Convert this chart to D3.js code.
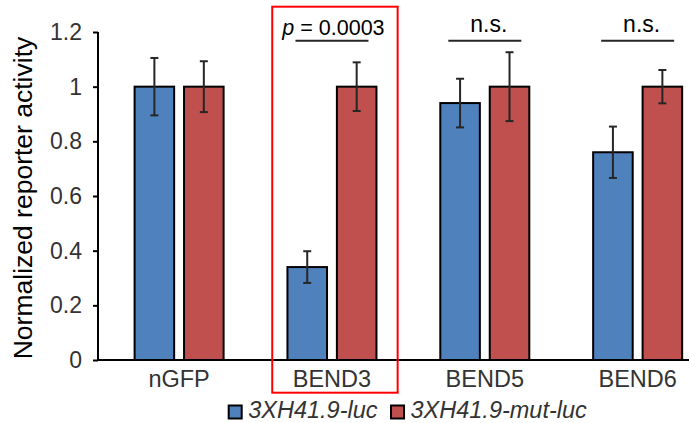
<!DOCTYPE html>
<html>
<head>
<meta charset="utf-8">
<script src="https://cdn.jsdelivr.net/npm/d3@7"></script>
<style>
  body { margin: 0; background: #fff; }
  svg { display: block; font-family: "Liberation Sans", Arial, sans-serif; }
</style>
</head>
<body>
<svg id="chart" width="689" height="423"></svg>
<script>
// data
const categories = ["nGFP", "BEND3", "BEND5", "BEND6"];
const series = ["3XH41.9-luc", "3XH41.9-mut-luc"];
const lucValues = [1.0, 0.34, 0.94, 0.76];
const lucErrors = [0.105, 0.058, 0.089, 0.094];
const mutValues = [1.0, 1.0, 1.0, 1.0];
const mutErrors = [0.093, 0.089, 0.126, 0.061];
const yTicks = [0, 0.2, 0.4, 0.6, 0.8, 1.0, 1.2];
const sigLabels = [null, "p", "n.s.", "n.s."];
const sigValues = [null, " = 0.0003", null, null];

const colors = {"3XH41.9-luc": "#4f81bd", "3XH41.9-mut-luc": "#c0504d"};
const textColor = "#333";

const svg = d3.select("#chart");
const margin = {left: 98, top: 32, bottom: 63};
const height = 423;

// scales
const step = 152.85;
const x = d3.scaleBand()
    .domain(categories)
    .range([179.1 - step / 2, 179.1 - step / 2 + step * categories.length]);
const xSub = d3.scaleBand()
    .domain(series)
    .range([-44.5, 44.5])
    .paddingInner(0.2);
const y = d3.scaleLinear().domain([0, 1.2]).range([height - margin.bottom, margin.top]);

const rows = [];
categories.forEach((c, i) => {
    rows.push({cat: c, s: series[0], v: lucValues[i], e: lucErrors[i]});
    rows.push({cat: c, s: series[1], v: mutValues[i], e: mutErrors[i]});
});
const cx = c => x(c) + x.bandwidth() / 2;

// bars
svg.append("g").selectAll("rect")
    .data(rows)
    .enter().append("rect")
    .attr("x", d => cx(d.cat) + xSub(d.s))
    .attr("y", d => y(d.v))
    .attr("width", xSub.bandwidth())
    .attr("height", d => y(0) - y(d.v))
    .attr("fill", d => colors[d.s])
    .attr("stroke", "#000")
    .attr("stroke-width", 2);

// error bars
const err = svg.append("g").attr("stroke", "#262626").attr("stroke-width", 2);
rows.forEach(d => {
    const mx = cx(d.cat) + xSub(d.s) + xSub.bandwidth() / 2;
    err.append("line").attr("x1", mx).attr("x2", mx).attr("y1", y(d.v + d.e)).attr("y2", y(d.v - d.e));
    [d.v + d.e, d.v - d.e].forEach(v => {
        err.append("line").attr("x1", mx - 4).attr("x2", mx + 4).attr("y1", y(v)).attr("y2", y(v));
    });
});

// y axis
const yAxis = svg.append("g")
    .attr("transform", `translate(${margin.left},0)`)
    .call(d3.axisLeft(y).tickValues(yTicks).tickSize(5).tickPadding(11)
        .tickFormat(d => String(+d.toFixed(1))));
yAxis.select(".domain").attr("stroke", "#000").attr("stroke-width", 2).attr("d", `M0,${y(1.2)}V${y(0)}`);
yAxis.selectAll(".tick line").attr("stroke", "#000").attr("stroke-width", 2);
yAxis.selectAll("text").attr("fill", textColor).style("font-size", "23px");

// x axis
svg.append("line")
    .attr("x1", margin.left - 1).attr("x2", 689)
    .attr("y1", y(0)).attr("y2", y(0))
    .attr("stroke", "#000").attr("stroke-width", 2);
svg.append("g").selectAll("text")
    .data(categories)
    .enter().append("text")
    .attr("x", d => cx(d))
    .attr("y", 386.5)
    .attr("text-anchor", "middle")
    .attr("fill", textColor)
    .style("font-size", "23.5px")
    .text(d => d);

// y title
svg.append("text")
    .attr("transform", `translate(32,${(35 + 361) / 2}) rotate(-90)`)
    .attr("text-anchor", "middle")
    .attr("fill", "#000")
    .style("font-size", "26.5px")
    .text("Normalized reporter activity");

// significance annotations
categories.forEach((c, i) => {
    if (!sigLabels[i]) return;
    const g = svg.append("g");
    g.append("line")
        .attr("x1", cx(c) - 36.5).attr("x2", cx(c) + 36.5)
        .attr("y1", 40.7).attr("y2", 40.7)
        .attr("stroke", "#262626").attr("stroke-width", 2);
    const t = g.append("text")
        .attr("x", cx(c) + (sigValues[i] ? 1.5 : 4))
        .attr("y", sigValues[i] ? 34.5 : 32)
        .attr("text-anchor", "middle")
        .attr("fill", "#000")
        .style("font-size", sigValues[i] ? "21.5px" : "23px");
    t.append("tspan").style("font-style", sigValues[i] ? "italic" : "normal").text(sigLabels[i]);
    if (sigValues[i]) t.append("tspan").text(sigValues[i]);
});

// highlight box around BEND3
svg.append("rect")
    .attr("x", cx("BEND3") - 62.7 + 3)
    .attr("y", 6.7)
    .attr("width", 125.4)
    .attr("height", 386)
    .attr("fill", "none")
    .attr("stroke", "#ff0000")
    .attr("stroke-width", 2);

// legend
const legend = svg.append("g");
let lx = 228.7;
series.forEach(s => {
    legend.append("rect")
        .attr("x", lx).attr("y", 405.5)
        .attr("width", 13).attr("height", 13)
        .attr("fill", colors[s]).attr("stroke", "#000").attr("stroke-width", 2);
    const t = legend.append("text")
        .attr("x", lx + 19.5).attr("y", 417.5)
        .attr("fill", textColor)
        .style("font-size", "23.5px")
        .style("font-style", "italic")
        .text(s);
    lx += 19.5 + t.node().getComputedTextLength() + 13.5;
});
</script>
</body>
</html>
